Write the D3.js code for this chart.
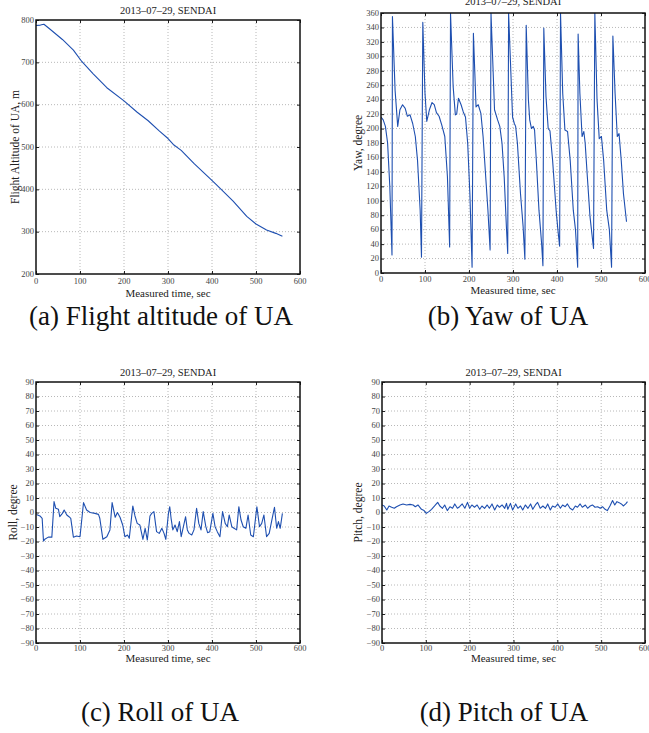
<!DOCTYPE html>
<html>
<head>
<meta charset="utf-8">
<script src="https://cdn.jsdelivr.net/npm/d3@7"></script>
<style>
    body { margin: 0; background: #fff; }
    svg text { font-family: "Liberation Serif", "Times New Roman", "DejaVu Serif", serif; }
</style>
</head>
<body>
<svg id="fig" width="649" height="733" font-family="Liberation Serif, serif"></svg>
<script>
// Data
let xTicks = [0, 100, 200, 300, 400, 500, 600];
let altTicks = [200, 300, 400, 500, 600, 700, 800];
let yawTicks = d3.range(0, 361, 20);
let angleTicks = d3.range(-90, 91, 10);

let altTime = [0, 10, 18, 30, 60, 85, 104, 130, 161, 200, 230, 255, 280, 300, 312, 330, 360, 395, 411, 448, 479, 500, 524, 545, 560];
let altValue = [787, 788, 790, 780, 754, 729, 702, 673, 640, 609, 582, 562, 538, 520, 506, 492, 460, 426, 410, 372, 336, 318, 304, 296, 289];

let yawTime = [0, 5, 10, 15, 20, 25, 26, 32, 38, 43, 49, 55, 60, 66, 72, 78, 83, 89, 92, 95, 100, 104, 110, 116, 121, 126, 132, 138, 145, 151, 156, 158,
    164, 169, 172, 176, 182, 187, 192, 197, 202, 207, 210, 216, 221, 227, 232, 238, 243, 248, 250, 258, 265, 270, 275, 280, 285, 288, 290,
    299, 303, 306, 310, 317, 323, 327, 330, 335, 338, 342, 346, 349, 353, 359, 365, 368, 370, 375, 380, 384, 390, 398, 402, 406, 408,
    413, 418, 424, 430, 437, 442, 447, 448, 452, 457, 461, 464, 469, 475, 483, 486, 491, 496, 501, 506, 513, 519, 524, 527, 532, 537, 541, 546, 551, 558];
let yawValue = [216, 212, 203, 180, 120, 25, 355, 253, 203, 226, 233, 228, 217, 219, 207, 189, 156, 87, 22, 347, 249, 210, 226, 236, 233, 222, 217, 205, 189, 133, 36, 360,
    258, 219, 220, 242, 233, 223, 216, 180, 110, 8, 332, 230, 233, 221, 189, 133, 87, 32, 360, 226, 212, 203, 180, 133, 64, 27, 360,
    216, 207, 203, 180, 110, 64, 19, 343, 240, 212, 200, 203, 198, 156, 87, 41, 10, 339, 244, 200, 197, 156, 87, 60, 37, 360,
    249, 198, 196, 156, 87, 60, 8, 331, 249, 189, 196, 180, 133, 78, 34, 360, 240, 186, 189, 156, 87, 60, 8, 328, 249, 189, 193, 156, 110, 71];

let rollTime = [1, 9, 14, 17, 20, 28, 36, 41, 45, 51, 54, 60, 64, 70, 75, 79, 85, 92, 100, 108, 115, 123, 134, 142, 145, 152, 161, 168, 173, 180,
    185, 191, 197, 202, 208, 212, 220, 225, 230, 236, 243, 248, 253, 259, 263, 268, 274, 280, 286, 291, 295, 301, 304, 307, 311, 316, 321, 326,
    330, 335, 340, 344, 348, 354, 359, 365, 370, 375, 380, 386, 390, 395, 402, 407, 412, 418, 424, 430, 435, 439, 445, 450, 456, 461, 466, 471,
    477, 482, 488, 494, 502, 508, 513, 518, 524, 530, 536, 542, 547, 551, 555, 560];
let rollValue = [-1.3, -2.4, -4, -19.7, -18.5, -17, -17, 7.5, 2.9, 2.2, -2.9, -0.6, 1.7, -1.7, -2.9, -4, -17, -16.2, -16.7, 6.8, 1.7, 0, -0.6, -1.3, -4, -18.5, -16.7, -12, 6.8, -3.3,
    0, -3.3, -8.6, -16.7, -15.5, -17.8, 4.5, -2.4, -7.5, -8.6, -18.5, -10.9, -19, -2.4, -0.6, 0.6, -13.2, -14.4, -10.9, -14.4, -18.5, -0.6, 4, -4, -12, -8.6, -13.2, -6.3,
    -16.7, -9.8, -2.9, -12, -14.4, -15.5, -12, 2.9, -7.5, -12, 0.6, -9.8, -13.9, -13.2, -0.6, -9.8, -13.2, -16.7, 0.6, -7.5, -9.8, -1.7, -9.8, -10.9, -12, 4, -5.2, -9.8,
    -10.9, -1.7, -15.5, -16.7, 4, -9.8, -7.5, -1.7, -16.7, -14.4, -5.2, 3.6, -10.9, -6.3, -10.9, -0.6];

let pitchTime = [0, 5, 11, 16, 22, 28, 33, 41, 48, 56, 64, 71, 76, 82, 90, 96, 101, 107, 113, 120, 127, 132, 138, 143, 149, 155, 161, 166, 172, 177,
    183, 189, 195, 200, 205, 211, 217, 223, 228, 234, 240, 245, 251, 257, 263, 268, 274, 280, 284, 287, 293, 298, 305, 310, 316, 321, 327, 333,
    339, 344, 350, 355, 361, 367, 373, 378, 384, 389, 395, 401, 407, 412, 418, 423, 429, 435, 441, 446, 452, 457, 464, 469, 475, 480, 486, 492,
    498, 503, 509, 514, 520, 526, 531, 536, 541, 546, 551, 557, 560];
let pitchValue = [5.2, 4.5, 1.7, 4.5, 3.6, 2.9, 4, 5.2, 5.9, 5.2, 5.6, 5.2, 4, 5.2, 2.2, 1.3, -0.6, 0.6, 2.2, 4.5, 7, 4.5, 2.9, 5.2, 1.3, 4, 2.9, 5.9, 2.9, 4,
    5.9, 2.9, 7, 2.9, 5.2, 3.6, 5.2, 2.2, 4.5, 2.9, 5.2, 2.9, 5.9, 1.7, 5.2, 3.6, 5.2, 2.9, 6.3, 2.2, 6.3, 1.7, 5.9, 2.9, 4.5, 1.7, 5.2, 2.9,
    5.9, 2.2, 5.2, 7, 2.9, 4.5, 2.9, 5.9, 1.7, 4.5, 3.6, 5.9, 2.9, 5.2, 4, 5.9, 2.9, 1.7, 4.5, 3.6, 5.9, 3.6, 5.2, 2.9, 4.5, 5.2, 3.6, 4,
    2.9, 4, 2.2, 1.3, 4.5, 8.2, 5.2, 7.5, 6.8, 5.9, 4.5, 6.3, 7.5];

let plotTitle = '2013\u201307\u201329, SENDAI';
let xLabel = 'Measured time, sec';
let lineColor = '#1e4fb0';

let svg = d3.select('#fig');
svg.append('rect').attr('width', 649).attr('height', 733).attr('fill', '#fff');

// One panel per subfigure
drawPanel({ id: 'a', left: 36, right: 300, top: 20, bottom: 274, yDomain: [200, 800], yTicks: altTicks,
    times: altTime, values: altValue, yLabel: 'Flight Altitude of UA, m', yLabelX: 15,
    titleY: 14, tickY: 284, xLabelY: 297 });
drawPanel({ id: 'b', left: 381, right: 645, top: 13, bottom: 273, yDomain: [0, 360], yTicks: yawTicks,
    times: yawTime, values: yawValue, yLabel: 'Yaw, degree', yLabelX: 358,
    titleY: 5, tickY: 282, xLabelY: 294 });
drawPanel({ id: 'c', left: 36, right: 300, top: 382, bottom: 643, yDomain: [-90, 90], yTicks: angleTicks,
    times: rollTime, values: rollValue, yLabel: 'Roll, degree', yLabelX: 13,
    titleY: 376, tickY: 651, xLabelY: 662 });
drawPanel({ id: 'd', left: 382, right: 645, top: 382, bottom: 643, yDomain: [-90, 90], yTicks: angleTicks,
    times: pitchTime, values: pitchValue, yLabel: 'Pitch, degree', yLabelX: 358,
    titleY: 376, tickY: 651, xLabelY: 662 });

// Sub-captions
let captions = [
    { text: '(a) Flight altitude of UA', x: 161, y: 325 },
    { text: '(b) Yaw of UA', x: 508, y: 325 },
    { text: '(c) Roll of UA', x: 160, y: 721 },
    { text: '(d) Pitch of UA', x: 504, y: 721 }
];
svg.selectAll('text.caption')
    .data(captions)
    .enter()
    .append('text')
    .attr('class', 'caption')
    .attr('x', d => d.x)
    .attr('y', d => d.y)
    .attr('text-anchor', 'middle')
    .attr('font-size', 27)
    .attr('fill', '#111')
    .text(d => d.text);

function drawPanel(p) {
    let x = d3.scaleLinear().domain([0, 600]).range([p.left, p.right]);
    let y = d3.scaleLinear().domain(p.yDomain).range([p.bottom, p.top]);
    let g = svg.append('g').attr('class', 'panel-' + p.id);

    // dotted grid
    g.append('g')
        .selectAll('line')
        .data(xTicks.slice(1, -1))
        .enter()
        .append('line')
        .attr('x1', d => x(d)).attr('x2', d => x(d))
        .attr('y1', p.top).attr('y2', p.bottom)
        .attr('stroke', '#b8b8b8')
        .attr('stroke-dasharray', '1,2');
    g.append('g')
        .selectAll('line')
        .data(p.yTicks.slice(1, -1))
        .enter()
        .append('line')
        .attr('x1', p.left).attr('x2', p.right)
        .attr('y1', d => y(d)).attr('y2', d => y(d))
        .attr('stroke', '#b8b8b8')
        .attr('stroke-dasharray', '1,2');

    // inward ticks on all four sides
    let tk = 3;
    g.append('g').call(d3.axisBottom(x).tickValues(xTicks).tickSize(tk).tickFormat(''))
        .attr('transform', 'translate(0,' + (p.top) + ')');
    g.append('g').call(d3.axisTop(x).tickValues(xTicks).tickSize(tk).tickFormat(''))
        .attr('transform', 'translate(0,' + (p.bottom) + ')');
    g.append('g').call(d3.axisRight(y).tickValues(p.yTicks).tickSize(tk).tickFormat(''))
        .attr('transform', 'translate(' + p.left + ',0)');
    g.append('g').call(d3.axisLeft(y).tickValues(p.yTicks).tickSize(tk).tickFormat(''))
        .attr('transform', 'translate(' + p.right + ',0)');
    g.selectAll('.domain').remove();
    g.selectAll('.tick line').attr('stroke', '#222');

    // the data line
    svg.append('clipPath').attr('id', 'clip-' + p.id)
        .append('rect')
        .attr('x', p.left).attr('y', p.top)
        .attr('width', p.right - p.left).attr('height', p.bottom - p.top);
    let pts = p.times.map((t, i) => [t, p.values[i]]);
    g.append('path')
        .datum(pts)
        .attr('clip-path', 'url(#clip-' + p.id + ')')
        .attr('fill', 'none')
        .attr('stroke', lineColor)
        .attr('stroke-width', 1.1)
        .attr('stroke-linejoin', 'round')
        .attr('d', d3.line().x(d => x(d[0])).y(d => y(d[1])));

    // box
    g.append('rect')
        .attr('x', p.left).attr('y', p.top)
        .attr('width', p.right - p.left).attr('height', p.bottom - p.top)
        .attr('fill', 'none')
        .attr('stroke', '#111')
        .attr('stroke-width', 1.5);

    // tick labels
    let fmt = d3.format('d');
    g.append('g')
        .selectAll('text')
        .data(xTicks)
        .enter()
        .append('text')
        .attr('x', d => x(d))
        .attr('y', p.tickY)
        .attr('text-anchor', 'middle')
        .attr('font-size', 8.5)
        .attr('fill', '#444')
        .text(d => fmt(d));
    g.append('g')
        .selectAll('text')
        .data(p.yTicks)
        .enter()
        .append('text')
        .attr('x', p.left - 2)
        .attr('y', d => y(d))
        .attr('dy', '0.33em')
        .attr('text-anchor', 'end')
        .attr('font-size', 8.5)
        .attr('fill', '#444')
        .text(d => fmt(d));

    // title and axis labels
    g.append('text')
        .attr('x', (p.left + p.right) / 2)
        .attr('y', p.titleY)
        .attr('text-anchor', 'middle')
        .attr('font-size', 10.5)
        .attr('fill', '#222')
        .text(plotTitle);
    g.append('text')
        .attr('x', (p.left + p.right) / 2)
        .attr('y', p.xLabelY)
        .attr('text-anchor', 'middle')
        .attr('font-size', 11)
        .attr('fill', '#222')
        .text(xLabel);
    g.append('text')
        .attr('transform', 'translate(' + p.yLabelX + ',' + ((p.top + p.bottom) / 2) + ') rotate(-90)')
        .attr('dy', '0.35em')
        .attr('text-anchor', 'middle')
        .attr('font-size', 11.5)
        .attr('fill', '#222')
        .text(p.yLabel);
}
</script>
</body>
</html>
